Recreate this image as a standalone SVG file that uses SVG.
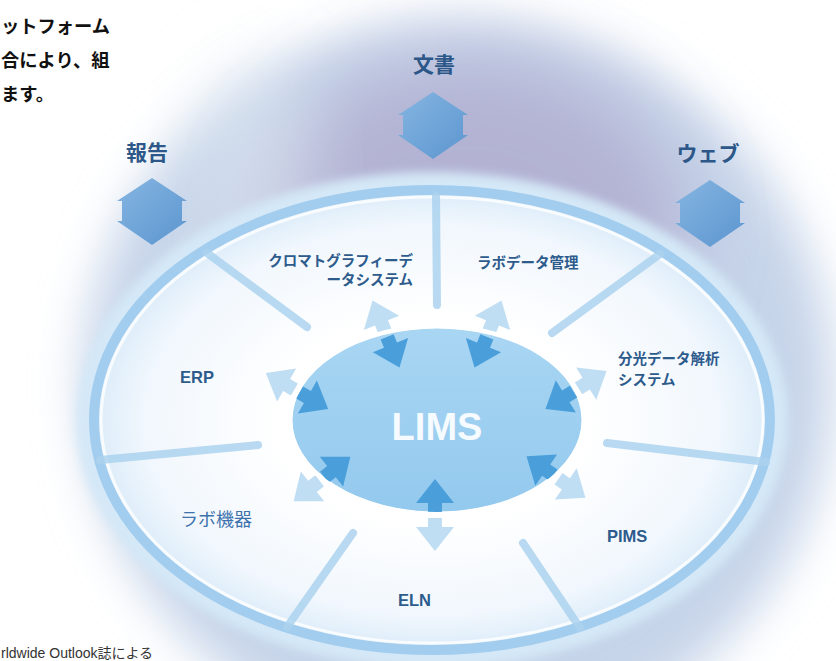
<svg xmlns="http://www.w3.org/2000/svg" width="836" height="661" viewBox="0 0 836 661">
  <style>
    .intro { font-family: "Noto Sans CJK JP", sans-serif; font-size: 18.3px; font-weight: bold; fill: #111; }
    .note { font-family: "Liberation Sans", "Noto Sans CJK JP", sans-serif; font-size: 14px; fill: #333; }
    .top { font-family: "Noto Sans CJK JP", sans-serif; font-size: 21px; font-weight: bold; fill: #2c5788; text-anchor: middle; }
    .jp { font-family: "Noto Sans CJK JP", sans-serif; font-size: 14.5px; font-weight: bold; fill: #2d5b8c; }
    .en { font-family: "Liberation Sans", Arial, sans-serif; font-size: 16.5px; font-weight: bold; fill: #2d5b8c; }
    .kiki { font-family: "Noto Sans CJK JP", sans-serif; font-size: 18px; fill: #3d72ad; }
    .lims { font-family: "Liberation Sans", Arial, sans-serif; font-size: 38px; font-weight: bold; fill: #f6fbff; text-anchor: middle; }
    .spoke { stroke: #abd2ef; stroke-width: 8; stroke-linecap: round; fill: none; opacity: 0.85; }
    .big { fill: url(#bigArrow); }
    .dark { fill: #4a9fdb; }
    .light { fill: #b9daf2; opacity: 0.9; }
  </style>
  <defs>
    <filter id="blur" x="-30%" y="-30%" width="160%" height="160%">
      <feGaussianBlur stdDeviation="24"/>
    </filter>
    <filter id="blur2" x="-40%" y="-40%" width="180%" height="180%">
      <feGaussianBlur stdDeviation="36"/>
    </filter>
    <filter id="soft" x="-10%" y="-10%" width="120%" height="120%">
      <feGaussianBlur stdDeviation="5"/>
    </filter>
    <radialGradient id="disc" cx="0.5" cy="0.5" r="0.5">
      <stop offset="0.45" stop-color="#ffffff"/>
      <stop offset="0.85" stop-color="#f1f7fd"/>
      <stop offset="1" stop-color="#dcecf9"/>
    </radialGradient>
    <linearGradient id="limsFill" x1="0" y1="0" x2="0" y2="1">
      <stop offset="0" stop-color="#a9d6f3"/>
      <stop offset="1" stop-color="#93c9ee"/>
    </linearGradient>
    <linearGradient id="bigArrow" x1="0" y1="0" x2="1" y2="1">
      <stop offset="0" stop-color="#86b6e2"/>
      <stop offset="1" stop-color="#5b95cf"/>
    </linearGradient>
    <polygon id="dbl" points="0,-34 35,-11 30,-11 30,9 35,9 0,33 -35,9 -30,9 -30,-11 -35,-11"/>
    <g id="pair">
      <polygon class="light" points="0,-36 19,-12 7,-12 7,-3 -7,-3 -7,-12 -19,-12"/>
      <polygon class="dark" points="0,36 19,12 7,12 7,3 -7,3 -7,12 -19,12"/>
    </g>
  </defs>

  <!-- background halo -->
  <rect width="836" height="661" fill="#ffffff"/>
  <g id="halo">
    <ellipse cx="458" cy="385" rx="375" ry="365" fill="#c6d4e9" filter="url(#blur)"/>
    <ellipse cx="470" cy="235" rx="215" ry="175" fill="#b3b2d3" filter="url(#blur2)"/>
    <ellipse cx="255" cy="190" rx="60" ry="130" fill="#dfe8f2" opacity="0.5" filter="url(#blur2)"/>
  </g>

  <!-- outer disc -->
  <g id="disc-base">
    <ellipse cx="432" cy="420" rx="342" ry="234" fill="none" stroke="#d4e8f7" stroke-width="28" filter="url(#soft)"/>
    <ellipse cx="432" cy="420" rx="338" ry="230" fill="url(#disc)"/>
    <ellipse cx="432" cy="420" rx="338" ry="230" fill="none" stroke="#a3cdee" stroke-width="10"/>
    <ellipse cx="432" cy="420" rx="331" ry="223" fill="none" stroke="#ffffff" stroke-width="3" opacity="0.8"/>
  </g>

  <!-- sector dividers -->
  <g id="spokes">
    <line class="spoke" x1="436" y1="196" x2="437" y2="305"/>
    <line class="spoke" x1="207" y1="253" x2="307" y2="327"/>
    <line class="spoke" x1="660" y1="254" x2="552" y2="333"/>
    <line class="spoke" x1="100" y1="460" x2="258" y2="445"/>
    <line class="spoke" x1="607" y1="443" x2="766" y2="462"/>
    <line class="spoke" x1="287" y1="627" x2="353" y2="533"/>
    <line class="spoke" x1="580" y1="628" x2="523" y2="543"/>
  </g>

  <!-- LIMS hub -->
  <g id="lims">
    <ellipse cx="437" cy="420" rx="147" ry="94" fill="none" stroke="#ffffff" stroke-width="14" opacity="0.6" filter="url(#soft)"/>
    <ellipse cx="437" cy="420" rx="147" ry="94" fill="url(#limsFill)" stroke="#ffffff" stroke-width="5"/>
    <text class="lims" x="437" y="440">LIMS</text>
  </g>

  <!-- connectors: arrows -->
  <g id="connectors">
    <use href="#dbl" class="big" transform="translate(152,212)"/>
    <use href="#dbl" class="big" transform="translate(433,126)"/>
    <use href="#dbl" class="big" transform="translate(710,214)"/>
    <use href="#pair" transform="translate(386,334) rotate(-22)"/>
    <use href="#pair" transform="translate(488,334) rotate(22)"/>
    <use href="#pair" transform="translate(576,390) rotate(58)"/>
    <use href="#pair" transform="translate(556,477) rotate(125)"/>
    <use href="#pair" transform="translate(435,515) rotate(180)"/>
    <use href="#pair" transform="translate(322,479) rotate(-128)"/>
    <use href="#pair" transform="translate(297,391) rotate(-60)"/>
    <ellipse cx="437" cy="420" rx="147" ry="94" fill="none" stroke="#ffffff" stroke-width="4"/>
  </g>

  <!-- outside nodes -->
  <g id="report"><text class="top" x="147" y="160">報告</text></g>
  <g id="document"><text class="top" x="434" y="72">文書</text></g>
  <g id="web"><text class="top" x="708" y="161">ウェブ</text></g>

  <!-- sector nodes -->
  <g id="chromatography">
    <text class="jp" x="413" y="266" text-anchor="end">クロマトグラフィーデ</text>
    <text class="jp" x="413" y="285" text-anchor="end">ータシステム</text>
  </g>
  <g id="labdata"><text class="jp" x="477" y="268">ラボデータ管理</text></g>
  <g id="spectro">
    <text class="jp" x="618" y="364">分光データ解析</text>
    <text class="jp" x="618" y="385">システム</text>
  </g>
  <g id="erp"><text class="en" x="180" y="383">ERP</text></g>
  <g id="pims"><text class="en" x="607" y="542">PIMS</text></g>
  <g id="eln"><text class="en" x="398" y="606">ELN</text></g>
  <g id="labequip"><text class="kiki" x="180" y="526">ラボ機器</text></g>

  <!-- page text -->
  <text class="intro" x="1" y="33">ットフォーム</text>
  <text class="intro" x="1" y="67">合により、組</text>
  <text class="intro" x="1" y="101">ます。</text>
  <text class="note" x="1" y="658">rldwide Outlook誌による</text>
</svg>
